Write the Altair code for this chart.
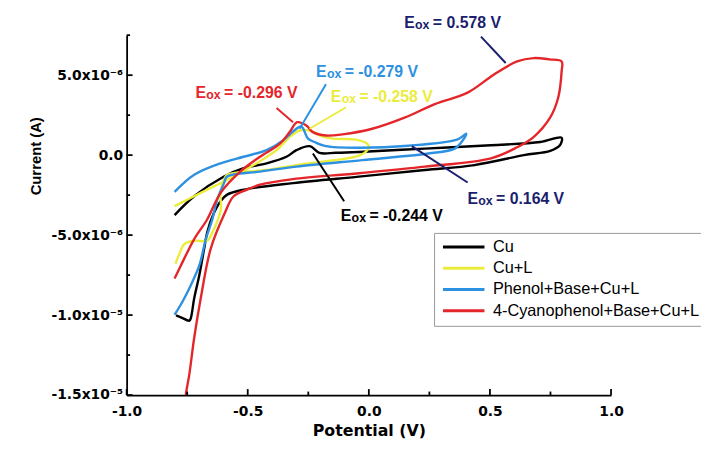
import altair as alt
import pandas as pd

# ---------------- data (potential in V, current in units of 1e-6 A) ----------------
series_names = ["Cu", "Cu+L", "Phenol+Base+Cu+L", "4-Cyanophenol+Base+Cu+L"]
series_colors = ["#000000", "#ebec3c", "#2d91e1", "#e4262b"]

cu_x = [-0.802, -0.721, -0.598, -0.517, -0.422, -0.340, -0.299, -0.244, -0.204, -0.136, -0.041,
        0.231, 0.504, 0.708, 0.796, 0.789, 0.749, 0.640, 0.436, 0.231, -0.041, -0.313, -0.517,
        -0.585, -0.612, -0.642, -0.667, -0.680, -0.700, -0.721, -0.735, -0.741, -0.776, -0.796]
cu_y = [-3.75, -2.57, -1.34, -0.82, -0.51, -0.10, 0.31, 0.56, 0.14, 0.15, 0.20,
        0.41, 0.62, 0.82, 1.09, 0.62, 0.27, 0.00, -0.62, -0.93, -1.34, -1.75, -2.16,
        -2.47, -2.88, -3.70, -4.81, -5.86, -7.51, -8.95, -10.19, -10.35, -10.14, -10.02]

cul_x = [-0.802, -0.694, -0.585, -0.476, -0.381, -0.327, -0.286, -0.245, -0.204, -0.149, -0.054,
         -0.007, 0.000, -0.013, -0.054, -0.190, -0.299, -0.422, -0.585, -0.598, -0.612, -0.611,
         -0.626, -0.646, -0.667, -0.721, -0.762, -0.782, -0.798]
cul_y = [-3.19, -2.36, -1.54, -0.62, 0.31, 1.13, 1.54, 1.54, 1.23, 1.03, 0.97,
         0.72, 0.51, 0.20, -0.10, -0.41, -0.62, -0.93, -1.23, -1.54, -2.36, -3.40,
         -4.14, -4.83, -5.35, -5.35, -5.56, -6.17, -6.79]

ph_x = [-0.802, -0.721, -0.612, -0.517, -0.422, -0.353, -0.313, -0.279, -0.251, -0.224, -0.177,
        -0.041, 0.163, 0.367, 0.402, 0.388, 0.354, 0.245, -0.027, -0.299, -0.449, -0.585,
        -0.598, -0.626, -0.646, -0.673, -0.700, -0.735, -0.769, -0.802]
ph_y = [-2.30, -1.23, -0.51, -0.10, 0.31, 0.93, 1.48, 1.79, 1.03, 0.82, 0.56,
        0.46, 0.59, 0.99, 1.34, 0.93, 0.41, 0.10, -0.31, -0.72, -1.03, -1.34,
        -1.75, -2.78, -4.01, -5.25, -6.90, -8.13, -9.15, -9.98]

cn_x = [-0.802, -0.776, -0.721, -0.667, -0.612, -0.531, -0.449, -0.367, -0.327, -0.296, -0.258,
        -0.231, -0.177, -0.109, 0.014, 0.150, 0.272, 0.408, 0.517, 0.612, 0.680, 0.746, 0.796,
        0.796, 0.782, 0.749, 0.680, 0.612, 0.504, 0.231, -0.041, -0.313, -0.449, -0.503,
        -0.558, -0.597, -0.653, -0.694, -0.721, -0.741, -0.755, -0.758]
cn_y = [-7.72, -6.90, -5.25, -4.01, -2.36, -1.03, -0.10, 0.72, 1.44, 2.06, 1.85,
        1.44, 1.23, 1.30, 1.65, 2.36, 3.19, 3.91, 5.04, 5.86, 6.07, 5.99, 5.86,
        5.25, 3.60, 2.36, 1.13, 0.49, -0.20, -0.72, -1.13, -1.50, -1.85, -2.16,
        -2.57, -3.70, -5.86, -8.95, -11.42, -13.69, -14.92, -15.43]

# annotations
ann_x = [0.146, -0.218, -0.157, -0.716, -0.116, 0.407]
ann_y = [8.27, 5.20, 3.64, 3.87, -3.81, -2.72]
ann_text = ["= 0.578 V", "= -0.279 V", "= -0.258 V", "= -0.296 V", "= -0.244 V", "= 0.164 V"]
ann_color = ["#1b1f6e", "#2d91e1", "#ebec3c", "#e4262b", "#000000", "#1b1f6e"]
lead_x1 = [0.463, -0.177, -0.095, -0.381, -0.231, 0.177]
lead_y1 = [7.41, 4.43, 2.98, 2.94, 0.10, 0.56]
lead_x2 = [0.565, -0.286, -0.245, -0.313, -0.102, 0.408]
lead_y2 = [5.76, 1.65, 1.65, 2.06, -2.88, -1.71]

# axes
x_major = [-1.0, -0.5, 0.0, 0.5, 1.0]
x_labels = ["-1.0", "-0.5", "0.0", "0.5", "1.0"]
x_minor = [-0.75, -0.25, 0.25, 0.75]
y_major = [-15, -10, -5, 0, 5]
y_labels = ["-1.5x10\u207b\u2075", "-1.0x10\u207b\u2075", "-5.0x10\u207b\u2076", "0.0", "5.0x10\u207b\u2076"]
y_minor = [-12.5, -7.5, -2.5, 2.5, 7.5]

# ---------------- tables ----------------
rows = []
for name, xs_, ys_ in zip(series_names, [cu_x, cul_x, ph_x, cn_x], [cu_y, cul_y, ph_y, cn_y]):
    for i, (a, b) in enumerate(zip(xs_, ys_)):
        rows.append({"series": name, "idx": i, "x": a, "y": b})
df = pd.DataFrame(rows)

ann = pd.DataFrame({"x": ann_x, "y": ann_y, "t": ann_text, "c": ann_color,
                    "x1": lead_x1, "y1": lead_y1, "x2": lead_x2, "y2": lead_y2})


def label_expr(vals, labels):
    expr = "''"
    for v, l in zip(vals, labels):
        expr = f"abs(datum.value - ({v})) < 1e-6 ? '{l}' : " + expr
    return expr


W, H = 490, 364
xs = alt.Scale(domain=[-1, 1], nice=False, zero=False)
ys = alt.Scale(domain=[-15, 7.5], nice=False, zero=False)

x_axis = alt.Axis(values=x_major, labelExpr=label_expr(x_major, x_labels), ticks=False, grid=False,
                  labelFlush=False, labelOverlap=False,
                  domainColor="black", domainWidth=1.8, labelFont="DejaVu Sans", labelFontWeight="bold",
                  labelFontSize=14, labelColor="black", labelPadding=10, title="Potential (V)",
                  titleFont="DejaVu Sans", titleFontWeight="bold", titleFontSize=16, titleColor="black",
                  titleY=41, titleBaseline="alphabetic")
y_axis = alt.Axis(values=y_major, labelExpr=label_expr(y_major, y_labels), ticks=False, grid=False,
                  labelFlush=False, labelOverlap=False,
                  domainColor="black", domainWidth=1.8, labelFont="DejaVu Sans", labelFontWeight="bold",
                  labelFontSize=14, labelColor="black", labelPadding=4, title="Current (A)",
                  titleFont="Liberation Sans", titleFontWeight="bold", titleFontSize=15, titleColor="black",
                  titleX=-92, titleY=122, titleBaseline="middle", titleAlign="center")

legend = alt.Legend(title=None, orient="none", legendX=311, legendY=200, symbolType="M-1,0H7",
                    symbolSize=110, symbolStrokeWidth=3, labelFont="Liberation Sans", labelFontSize=16.5,
                    labelColor="black", strokeColor="#999999", fillColor="white", padding=6,
                    rowPadding=4.5, labelOffset=37, labelLimit=400)

lines = alt.Chart(df).mark_line(strokeWidth=2.4, clip=True, interpolate="catmull-rom").encode(
    x=alt.X("x:Q", scale=xs, axis=x_axis),
    y=alt.Y("y:Q", scale=ys, axis=y_axis),
    color=alt.Color("series:N", scale=alt.Scale(domain=series_names, range=series_colors), legend=legend),
    order="idx:Q",
)

xmaj = alt.Chart(pd.DataFrame({"x": x_major})).mark_rule(color="black", strokeWidth=1.8).encode(
    x=alt.X("x:Q"), y=alt.value(H), y2=alt.value(H - 6))
xmin = alt.Chart(pd.DataFrame({"x": x_minor})).mark_rule(color="black", strokeWidth=1.8).encode(
    x=alt.X("x:Q"), y=alt.value(H), y2=alt.value(H - 3.5))
ymaj = alt.Chart(pd.DataFrame({"y": y_major})).mark_rule(color="black", strokeWidth=1.8).encode(
    y=alt.Y("y:Q"), x=alt.value(0), x2=alt.value(6))
ymin = alt.Chart(pd.DataFrame({"y": y_minor})).mark_rule(color="black", strokeWidth=1.8).encode(
    y=alt.Y("y:Q"), x=alt.value(0), x2=alt.value(3.5))

leaders = alt.Chart(ann).mark_rule(strokeWidth=2).encode(
    x=alt.X("x1:Q"), y=alt.Y("y1:Q"),
    x2="x2:Q", y2="y2:Q", stroke=alt.Stroke("c:N", scale=None, legend=None))

txt_E = alt.Chart(ann).mark_text(align="left", baseline="middle", font="Liberation Sans",
                                 fontWeight="bold", fontSize=16).encode(
    x=alt.X("x:Q"), y=alt.Y("y:Q"),
    text=alt.value("E"), fill=alt.Fill("c:N", scale=None, legend=None))
txt_ox = alt.Chart(ann).mark_text(align="left", baseline="middle", font="Liberation Sans",
                                  fontWeight="bold", fontSize=12.5, dx=11, dy=2).encode(
    x=alt.X("x:Q"), y=alt.Y("y:Q"),
    text=alt.value("ox"), fill=alt.Fill("c:N", scale=None, legend=None))
txt_v = alt.Chart(ann).mark_text(align="left", baseline="middle", font="Liberation Sans",
                                 fontWeight="bold", fontSize=16, dx=29).encode(
    x=alt.X("x:Q"), y=alt.Y("y:Q"),
    text="t:N", fill=alt.Fill("c:N", scale=None, legend=None))

chart = alt.layer(lines, xmaj, xmin, ymaj, ymin, leaders, txt_E, txt_ox, txt_v).properties(
    width=W, height=H,
    autosize=alt.AutoSizeParams(type="none"),
    padding={"left": 120, "top": 25, "right": 91, "bottom": 45},
    background="white",
).configure_view(stroke=None)

chart.save("out.html", embed_options={"renderer": "svg", "actions": False})
